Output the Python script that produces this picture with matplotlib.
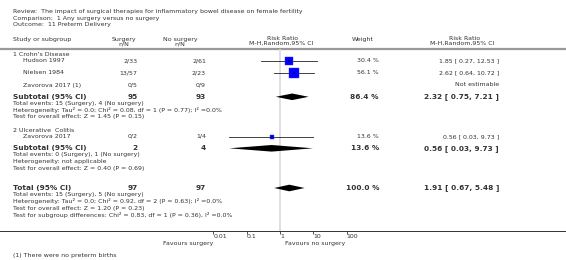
import matplotlib
matplotlib.use("Agg")
import matplotlib.pyplot as plt
import numpy as np

# ---------------- data ----------------
title_lines = ["Review:  The impact of surgical therapies for inflammatory bowel disease on female fertility",
               "Comparison:  1 Any surgery versus no surgery",
               "Outcome:  11 Preterm Delivery"]

group1_name = "1 Crohn's Disease"
group2_name = "2 Ulcerative  Colitis"

g1_studies = ["Hudson 1997", "Nielsen 1984", "Zavorova 2017 (1)"]
g1_surgery = ["2/33", "13/57", "0/5"]
g1_nosurgery = ["2/61", "2/23", "0/9"]
g1_weight = ["30.4 %", "56.1 %", ""]
g1_rr = [1.85, 2.62, None]
g1_lo = [0.27, 0.64, None]
g1_hi = [12.53, 10.72, None]
g1_w = [30.4, 56.1, 0.0]

g2_studies = ["Zavorova 2017"]
g2_surgery = ["0/2"]
g2_nosurgery = ["1/4"]
g2_weight = ["13.6 %"]
g2_rr = [0.56]
g2_lo = [0.03]
g2_hi = [9.73]
g2_w = [13.6]

sub1 = dict(n1="95", n2="93", weight="86.4 %", rr=2.32, lo=0.75, hi=7.21)
sub2 = dict(n1="2", n2="4", weight="13.6 %", rr=0.56, lo=0.03, hi=9.73)
total = dict(n1="97", n2="97", weight="100.0 %", rr=1.91, lo=0.67, hi=5.48)

sub1_notes = ["Total events: 15 (Surgery), 4 (No surgery)",
              "Heterogeneity: Tau\u00b2 = 0.0; Chi\u00b2 = 0.08, df = 1 (P = 0.77); I\u00b2 =0.0%",
              "Test for overall effect: Z = 1.45 (P = 0.15)"]
sub2_notes = ["Total events: 0 (Surgery), 1 (No surgery)",
              "Heterogeneity: not applicable",
              "Test for overall effect: Z = 0.40 (P = 0.69)"]
total_notes = ["Total events: 15 (Surgery), 5 (No surgery)",
               "Heterogeneity: Tau\u00b2 = 0.0; Chi\u00b2 = 0.92, df = 2 (P = 0.63); I\u00b2 =0.0%",
               "Test for overall effect: Z = 1.20 (P = 0.23)",
               "Test for subgroup differences: Chi\u00b2 = 0.83, df = 1 (P = 0.36), I\u00b2 =0.0%"]

tick_values = [0.01, 0.1, 1, 10, 100]
tick_labels = ["0.01", "0.1", "1", "10", "100"]
favours_left = "Favours surgery"
favours_right = "Favours no surgery"
footnote = "(1) There were no preterm births"

# ---------------- layout ----------------
W, H = 566, 260
fig = plt.figure(figsize=(W / 100, H / 100), dpi=100)
plt.rcParams['font.family'] = ['DejaVu Sans']

TXT = '#333333'
FS = 4.5
FSB = 5.3

# text axes in pixel coordinates
ax_t = fig.add_axes([0, 0, 1, 1])
ax_t.set_xlim(0, W)
ax_t.set_ylim(H, 0)
ax_t.axis('off')

# forest axes: full width, from header line (y=49) to axis line (y=231)
y_top, y_bot = 49, 231
ax_f = fig.add_axes([0, (H - y_bot) / H, 1, (y_bot - y_top) / H])
ax_f.patch.set_alpha(0)
ax_f.set_xscale('log')
px_per_dec = 33.33
x_one = 280
ax_f.set_xlim(10 ** (-x_one / px_per_dec), 10 ** ((W - x_one) / px_per_dec))
ax_f.set_ylim(y_bot, y_top)
for s in ['top', 'left', 'right']:
    ax_f.spines[s].set_visible(False)
ax_f.spines['bottom'].set_color('#333333')
ax_f.spines['bottom'].set_linewidth(0.7)
ax_f.set_yticks([])
ax_f.set_xticks(tick_values)
ax_f.set_xticklabels(tick_labels)
ax_f.minorticks_off()
ax_f.tick_params(axis='x', direction='out', length=2, width=0.6, color='#333333',
                 labelsize=FS, labelcolor=TXT, pad=0)
for lbl in ax_f.get_xticklabels():
    lbl.set_horizontalalignment('left')

# vertical null line
ax_f.axvline(1, color='#d9d9d9', lw=1.2, zorder=0)


def t(x, y, s, ha='left', bold=False, size=None, color=TXT):
    ax_t.text(x, y, s, ha=ha, va='center', fontsize=size or (FSB if bold else FS),
              fontweight='bold' if bold else 'normal', color=color)


# title
for i, line in enumerate(title_lines):
    t(13, 12 + i * 6.2, line)

# header
t(13, 39, "Study or subgroup")
t(124, 39, "Surgery", ha='center')
t(124, 43.5, "n/N", ha='center')
t(180, 39, "No surgery", ha='center')
t(180, 43.5, "n/N", ha='center')
t(283, 39, "Risk Ratio", ha='center')
t(281, 43.5, "M-H,Random,95% CI", ha='center')
t(363, 39, "Weight", ha='center')
t(465, 39, "Risk Ratio", ha='center')
t(462, 43.5, "M-H,Random,95% CI", ha='center')
ax_t.axhline(49, color='#999999', lw=1.6)

X_SURG, X_NO, X_W, X_RR = 137.5, 206, 379, 499


def study_row(y, name, s1, s2, wtxt, rr, lo, hi, w):
    t(23, y, name)
    t(X_SURG, y, s1, ha='right')
    t(X_NO, y, s2, ha='right')
    if rr is None:
        t(X_RR, y, "Not estimable", ha='right')
        return
    t(X_W, y, wtxt, ha='right')
    t(X_RR, y, f"{rr:.2f} [ {lo:.2f}, {hi:.2f} ]", ha='right')
    ax_f.plot([lo, hi], [y, y], color='#222222', lw=0.6, zorder=2)
    ms = 0.97 * np.sqrt(w)
    ax_f.plot([rr], [y], marker='s', ms=ms, mfc='#0000ff', mec='#3030ff', mew=0.3, zorder=3)
    ax_f.plot([rr], [y], marker='+', ms=1.2, mec='#000000', mew=0.3, zorder=4)


def summary_row(y, label, d, notes, dy=6.8):
    t(13, y, label, bold=True)
    t(X_SURG, y, d['n1'], ha='right', bold=True)
    t(X_NO, y, d['n2'], ha='right', bold=True)
    t(X_W, y, d['weight'], ha='right', bold=True)
    t(X_RR, y, f"{d['rr']:.2f} [ {d['lo']:.2f}, {d['hi']:.2f} ]", ha='right', bold=True)
    h = 3.3
    ax_f.fill([d['lo'], d['rr'], d['hi'], d['rr']], [y, y - h, y, y + h],
              color='#000000', lw=0, zorder=3)
    for i, n in enumerate(notes):
        t(13, y + 6.5 + i * dy, n)


# group 1
t(13, 54.5, group1_name)
ys1 = [61, 73, 85]
for i in range(len(g1_studies)):
    study_row(ys1[i], g1_studies[i], g1_surgery[i], g1_nosurgery[i], g1_weight[i],
              g1_rr[i], g1_lo[i], g1_hi[i], g1_w[i])
summary_row(96.8, "Subtotal (95% CI)", sub1, sub1_notes)

# group 2
t(13, 130.5, group2_name)
study_row(136.5, g2_studies[0], g2_surgery[0], g2_nosurgery[0], g2_weight[0],
          g2_rr[0], g2_lo[0], g2_hi[0], g2_w[0])
summary_row(148.3, "Subtotal (95% CI)", sub2, sub2_notes)

# total
summary_row(188, "Total (95% CI)", total, total_notes, dy=7.0)

# favours labels
t(213, 243, favours_left, ha='right')
t(285, 243, favours_right, ha='left')

# footnote
t(13, 256, footnote)

fig.savefig("out.png", dpi=100)
